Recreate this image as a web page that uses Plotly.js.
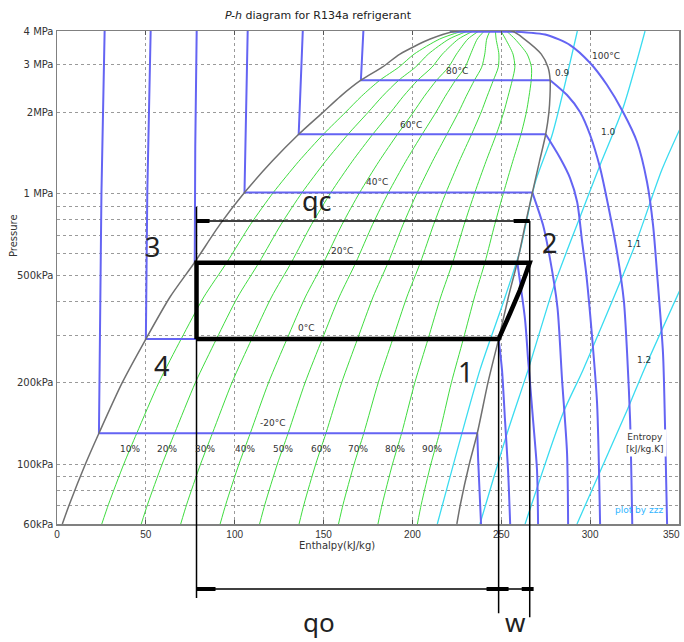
<!DOCTYPE html>
<html><head><meta charset="utf-8">
<script src="https://cdn.plot.ly/plotly-3.0.1.min.js"></script>
<style>html,body{margin:0;padding:0;background:#fff}#chart{width:684px;height:642px}</style>
</head><body><div id="chart"></div>
<script>
// ---- saturation dome (pressure kPa, enthalpy kJ/kg) ----
const satP  = [60, 71, 100, 130, 200, 290, 415, 558, 770, 1010, 1318, 1660, 2000, 2293, 2630, 2938, 3285, 3735, 4000];
const satHf = [3, 7, 16, 23.6, 36.7, 50, 63.6, 77.5, 91.7, 105.5, 121, 136, 149.6, 159.5, 171, 183, 193, 210, 225];
const satHg = [225, 227, 232, 236.5, 242.5, 248.5, 254, 259, 263.5, 267.5, 271.5, 275, 276.8, 277.4, 277.5, 276.3, 272.5, 263, 256];
const qualities = [10, 20, 30, 40, 50, 60, 70, 80, 90];

// ---- isotherms: liquid + two-phase part, superheated part ----
const isoM20LiqH = [26.8, 25.0, 23.6, 236.5], isoM20LiqP = [4000, 1000, 130, 130];
const isoM20VapH = [236.5, 237.0, 238.6],     isoM20VapP = [130, 103, 60];
const iso0LiqH = [52.7, 50.8, 50.0, 248.5],   iso0LiqP = [4000, 1000, 290, 290];
const iso0VapH = [248.5, 250.4, 252.1, 253.8, 255.0], iso0VapP = [290, 223, 145, 95, 60];
const iso20LiqH = [78.6, 77.8, 77.5, 259.0],  iso20LiqP = [4000, 1500, 558, 558];
const iso20VapH = [259.0, 263.4, 265.1, 267.9, 270.1, 270.7], iso20VapP = [558, 341, 243, 145, 95, 60];
const iso40LiqH = [107.3, 106.2, 105.5, 267.5], iso40LiqP = [4000, 1800, 1010, 1010];
const iso40VapH = [267.5, 273.5, 277.0, 281.6, 284.2, 287.0, 287.6], iso40VapP = [1010, 766, 595, 380, 205, 110, 60];
const iso60LiqH = [138.3, 136.0, 275.0], iso60LiqP = [4000, 1660, 1660];
const iso60VapH = [275.0, 283.1, 288.7, 292.7, 295.5, 297.7, 301.1, 303.9, 305.6];
const iso60VapP = [1660, 1356, 1143, 932, 663, 513, 295, 168, 60];
const iso80LiqH = [172.4, 171.0, 277.5], iso80LiqP = [4000, 2630, 2630];
const iso80VapH = [277.5, 287.0, 294.3, 300.0, 305.6, 310.1, 315.1, 319.0, 320.8, 322.5, 323.7];
const iso80VapP = [2630, 2318, 2006, 1649, 1245, 908, 609, 400, 257, 145, 60];
const iso100LiqH = [221, 258], iso100LiqP = [3972, 3972];
const iso100VapH = [258, 275.7, 288.7, 300.0, 309.5, 318.5, 326.4, 332.0, 335.4, 337.6, 341.0, 342.1, 343.3];
const iso100VapP = [3972, 3868, 3548, 3045, 2524, 2006, 1554, 1105, 766, 513, 257, 142, 60];

// ---- isentropes ----
const s09H = [292.8, 278.6, 269.0, 260.6, 251.0, 238.0, 214.0], s09P = [4000, 1649, 1096, 619, 394, 223, 60];
const s10H = [330.9, 318.5, 305.6, 294.3, 280.2, 265.1, 253.3, 238.0], s10P = [4000, 2076, 1278, 820, 467, 223, 130, 60];
const s11H = [352.3, 340.3, 325.3, 296.0, 284.8, 263.4], s11P = [1842, 1224, 646, 223, 154.5, 60];
const s12H = [352.3, 330.3, 320.8, 292.6], s12P = [467, 223, 158, 60];

// ---- refrigeration cycle 4-1-2-3-4 ----
const cycleH = [78.5, 248.5, 255.0, 260.5, 266.0, 78.5, 78.5];
const cycleP = [290, 290, 362, 440, 555, 555, 290];

// ---- tick labels ----
const xTicks = [0, 50, 100, 150, 200, 250, 300, 350];
const yTicks = [60, 100, 200, 500, 1000, 2000, 3000, 4000];
const yTickText = ['60kPa', '100kPa', '200kPa', '500kPa', '1 MPa', '2MPa', '3 MPa', '4 MPa'];
const yMinor = [70, 80, 90, 300, 400, 600, 700, 800, 900];

const BLUE = '#6464f3', GREEN = '#3fdc3f', CYAN = '#3adcf0', GREY = '#707070';
const traces = [];
function line(x, y, color, width, spline) {
  traces.push({x: x, y: y, type: 'scatter', mode: 'lines', hoverinfo: 'skip', showlegend: false,
    line: {color: color, width: width, shape: spline ? 'spline' : 'linear', smoothing: 0.7}});
}
// quality lines (lever rule on the saturation table)
qualities.forEach(function (q) {
  line(satP.map(function (p, i) { return satHf[i] + q / 100 * (satHg[i] - satHf[i]); }), satP, GREEN, 1, true);
});
// isentropes
line(s09H, s09P, CYAN, 1.3, true);
line(s10H, s10P, CYAN, 1.3, true);
line(s11H, s11P, CYAN, 1.3, true);
line(s12H, s12P, CYAN, 1.3, true);
// isotherms
[[isoM20LiqH, isoM20LiqP, isoM20VapH, isoM20VapP], [iso0LiqH, iso0LiqP, iso0VapH, iso0VapP],
 [iso20LiqH, iso20LiqP, iso20VapH, iso20VapP], [iso40LiqH, iso40LiqP, iso40VapH, iso40VapP],
 [iso60LiqH, iso60LiqP, iso60VapH, iso60VapP], [iso80LiqH, iso80LiqP, iso80VapH, iso80VapP],
 [iso100LiqH, iso100LiqP, iso100VapH, iso100VapP]].forEach(function (t) {
  line(t[0], t[1], BLUE, 2, false);
  line(t[2], t[3], BLUE, 2, true);
});
// dome
line(satHf.concat(satHg.slice().reverse()), satP.concat(satP.slice().reverse()), GREY, 1.5, true);
// cycle
line(cycleH, cycleP, '#000', 4.5, false);

// dimension lines (x in data, y in paper)
const h3 = cycleH[0], h1 = cycleH[1], h2 = cycleH[4];
function seg(x0, x1, y0, y1, w) {
  return {type: 'line', xref: 'x', yref: 'paper', x0: x0, x1: x1, y0: y0, y1: y1,
          line: {color: '#000', width: w}, layer: 'above'};
}
const shapes = [
  seg(h3, h3, 0.643, -0.150, 1.5),
  seg(h1, h1, 0.373, -0.181, 1.5),
  seg(h2, h2, 0.6146, -0.189, 1.5),
  seg(h3, h2, 0.6146, 0.6146, 1.5),
  seg(h3, h3 + 7.3, 0.6146, 0.6146, 4),
  seg(h2 - 9, h2, 0.6146, 0.6146, 4),
  seg(h3, h2, -0.1318, -0.1318, 1.5),
  seg(h3, h3 + 10.7, -0.1318, -0.1318, 4),
  seg(h1 - 6.8, h1 + 5.6, -0.1318, -0.1318, 4),
  seg(h2 - 4.5, h2 + 2.2, -0.1318, -0.1318, 4)
];

const SMALL = {family: 'DejaVu Sans', size: 9, color: '#333'};
const annotations = [];
function lab(text, x, y, font, extra) {
  const a = {text: text, x: x, y: y, xref: 'paper', yref: 'paper', showarrow: false,
             xanchor: 'center', yanchor: 'middle', font: font || SMALL};
  if (extra) Object.assign(a, extra);
  annotations.push(a);
}
lab('100°C', 0.8826, 0.9493); lab('80°C', 0.6431, 0.9189); lab('60°C', 0.5691, 0.8093);
lab('40°C', 0.5145, 0.6937); lab('20°C', 0.4582, 0.5538); lab('0°C', 0.4019, 0.3976);
lab('-20°C', 0.3457, 0.2049);
const qx = [0.1174, 0.1768, 0.2379, 0.3023, 0.3633, 0.4244, 0.4839, 0.5434, 0.6029];
qualities.forEach(function (q, i) { lab(q + '%', qx[i], 0.1521); });
lab('0.9', 0.8135, 0.9148); lab('1.0', 0.8859, 0.7951); lab('1.1', 0.9277, 0.5680); lab('1.2', 0.9437, 0.3327);
lab('Entropy<br>[kJ/kg.K]', 0.9453, 0.1643, SMALL, {bgcolor: '#fff', borderpad: 2, align: 'center'});
lab('plot by zzz', 0.9357, 0.0284, {family: 'DejaVu Sans', size: 9, color: '#2fb4ff'});
lab('Pressure', -0.0707, 0.584, {family: 'DejaVu Sans', size: 10, color: '#333'}, {textangle: -90});
lab('Enthalpy(kJ/kg)', 0.450, -0.0446, {family: 'DejaVu Sans', size: 10, color: '#333'});
// last x tick label, clipped by the page edge in the original
lab('350', 1.0, -0.0223, {family: 'Liberation Sans', size: 10, color: '#333'}, {xanchor: 'right', xshift: 3});
const BIG = {family: 'Noto Sans', size: 27, color: '#222'};
lab('qc', 0.418, 0.6572, BIG);
lab('3', 0.1543, 0.5619, BIG); lab('4', 0.1688, 0.3205, BIG);
lab('1', 0.656, 0.3103, BIG); lab('2', 0.7926, 0.5720, BIG);
lab('qo', 0.4212, -0.2394, {family: 'Noto Sans', size: 26, color: '#222'}, {yanchor: 'bottom'});
lab('w', 0.7379, -0.2394, {family: 'Noto Sans', size: 26, color: '#222'}, {yanchor: 'bottom'});

const layout = {
  width: 684, height: 642,
  margin: {l: 57, r: 5, t: 31, b: 118},
  paper_bgcolor: '#fff', plot_bgcolor: '#fff',
  showlegend: false,
  title: {text: '<i>P-h</i> diagram for R134a refrigerant', x: 318 / 684, xref: 'container', xanchor: 'center',
          y: 1 - 15 / 642, yref: 'container', yanchor: 'middle',
          font: {family: 'DejaVu Sans', size: 11, color: '#222'}},
  xaxis: {range: [0, 350], tickmode: 'array', tickvals: xTicks, ticks: 'inside', ticklen: 4, tickcolor: '#555',
          showline: true, linecolor: '#808080', linewidth: 1.5, mirror: 'ticks', zeroline: false,
          showgrid: true, gridcolor: '#9a9a9a', griddash: 'dot', gridwidth: 1,
          tickfont: {family: 'Liberation Sans', size: 10, color: '#333'}},
  yaxis: {type: 'log', range: [Math.log10(60), Math.log10(4000)], tickmode: 'array', tickvals: yTicks,
          ticktext: yTickText, ticks: '', showline: true, linecolor: '#808080', linewidth: 1.5, mirror: true,
          zeroline: false, showgrid: true, gridcolor: '#9a9a9a', griddash: 'dot', gridwidth: 1,
          minor: {tickmode: 'array', tickvals: yMinor, showgrid: true, gridcolor: '#9a9a9a', griddash: 'dot', gridwidth: 1, ticks: ''},
          tickfont: {family: 'DejaVu Sans', size: 10, color: '#333'}},
  shapes: shapes,
  annotations: annotations
};
Plotly.newPlot('chart', traces, layout, {staticPlot: true, displayModeBar: false});
</script>
</body></html>
